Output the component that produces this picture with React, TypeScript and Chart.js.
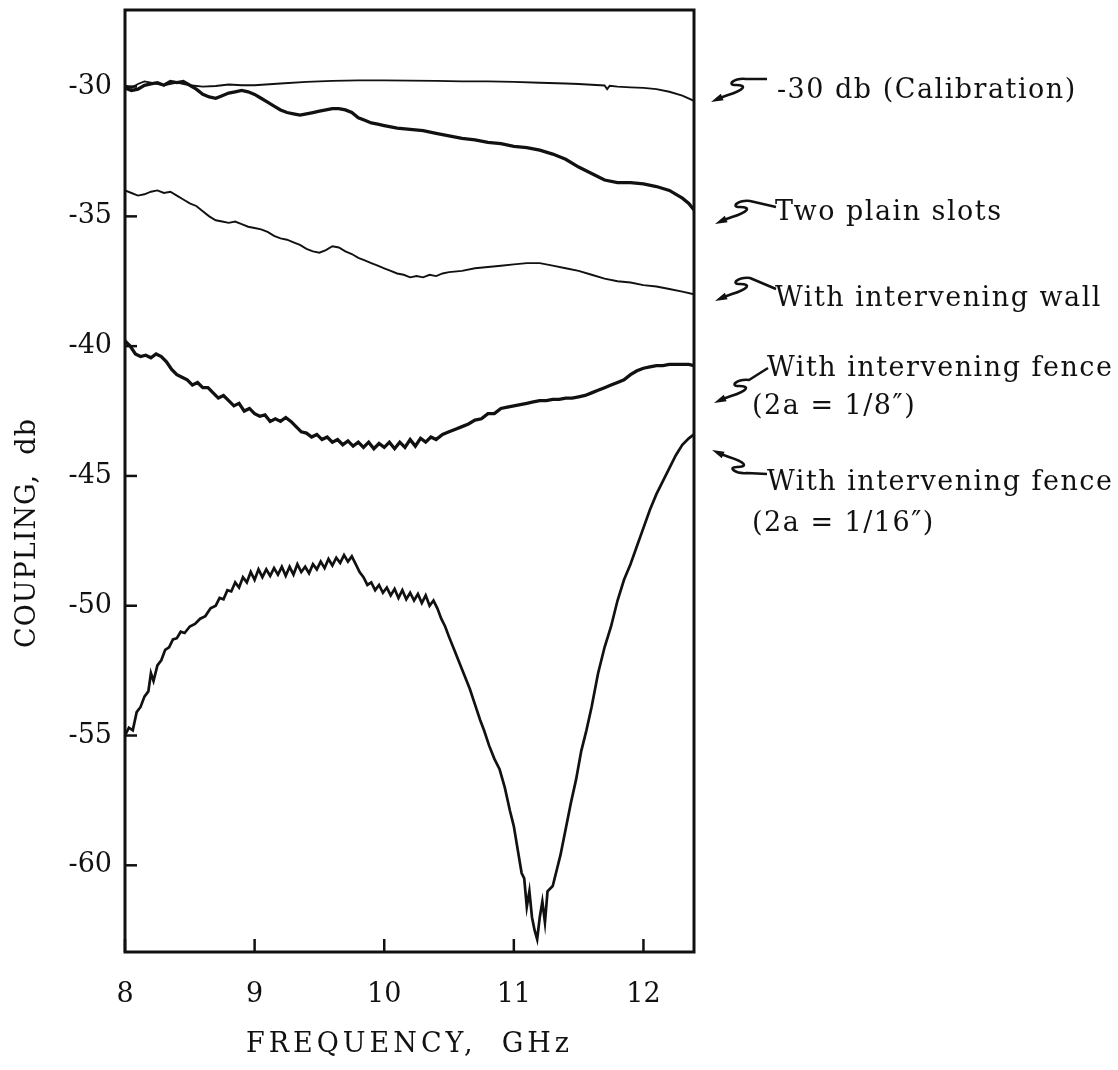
import { useEffect, useRef } from "react";
import { Chart, registerables } from "chart.js";

Chart.register(...registerables);

const SERIF = "'DejaVu Serif', 'Liberation Serif', serif";
const INK = "#111";

// Axis ranges and ticks
const X_MIN = 8;
const X_MAX = 12.39;
const Y_MIN = -63.34;
const Y_MAX = -27.05;
const X_TICK_STEP = 1;
const Y_TICK_STEP = 5;

// -30 db calibration trace
const calFreq = [8.0, 8.05, 8.1, 8.15, 8.2, 8.3, 8.4, 8.5, 8.6, 8.7, 8.8, 8.9, 9.0, 9.2, 9.4, 9.6, 9.8, 10.0, 10.2, 10.4, 10.6, 10.8, 11.0, 11.2, 11.4, 11.5, 11.6, 11.7, 11.72, 11.74, 11.8, 11.9, 12.0, 12.1, 12.2, 12.3, 12.39];
const calDb = [-29.95, -30.05, -29.9, -29.8, -29.85, -29.95, -29.85, -29.95, -30.0, -29.98, -29.92, -29.95, -29.95, -29.88, -29.82, -29.78, -29.76, -29.76, -29.77, -29.78, -29.8, -29.8, -29.82, -29.85, -29.88, -29.9, -29.93, -29.96, -30.1, -29.97, -30.0, -30.03, -30.05, -30.1, -30.2, -30.35, -30.55];

// Two plain slots
const slotsFreq = [8.0, 8.05, 8.1, 8.15, 8.2, 8.25, 8.3, 8.35, 8.4, 8.45, 8.5, 8.55, 8.6, 8.65, 8.7, 8.75, 8.8, 8.85, 8.9, 8.95, 9.0, 9.05, 9.1, 9.15, 9.2, 9.25, 9.3, 9.35, 9.4, 9.45, 9.5, 9.55, 9.6, 9.65, 9.7, 9.75, 9.8, 9.85, 9.9, 9.95, 10.0, 10.1, 10.2, 10.3, 10.4, 10.5, 10.6, 10.7, 10.8, 10.9, 11.0, 11.1, 11.2, 11.3, 11.4, 11.5, 11.6, 11.7, 11.8, 11.9, 12.0, 12.1, 12.2, 12.3, 12.35, 12.39];
const slotsDb = [-30.05, -30.15, -30.1, -29.95, -29.9, -29.85, -29.95, -29.8, -29.85, -29.8, -29.95, -30.1, -30.3, -30.4, -30.45, -30.35, -30.25, -30.2, -30.15, -30.2, -30.3, -30.45, -30.6, -30.75, -30.9, -31.0, -31.05, -31.1, -31.05, -31.0, -30.95, -30.9, -30.85, -30.85, -30.9, -31.0, -31.2, -31.3, -31.4, -31.45, -31.5, -31.6, -31.65, -31.7, -31.8, -31.9, -32.0, -32.05, -32.15, -32.2, -32.3, -32.35, -32.45, -32.6, -32.8, -33.1, -33.35, -33.6, -33.7, -33.7, -33.75, -33.85, -34.0, -34.3, -34.5, -34.75];

// With intervening wall
const wallFreq = [8.0, 8.05, 8.1, 8.15, 8.2, 8.25, 8.3, 8.35, 8.4, 8.45, 8.5, 8.55, 8.6, 8.65, 8.7, 8.75, 8.8, 8.85, 8.9, 8.95, 9.0, 9.05, 9.1, 9.15, 9.2, 9.25, 9.3, 9.35, 9.4, 9.45, 9.5, 9.55, 9.6, 9.65, 9.7, 9.75, 9.8, 9.85, 9.9, 9.95, 10.0, 10.05, 10.1, 10.15, 10.2, 10.25, 10.3, 10.35, 10.4, 10.45, 10.5, 10.6, 10.7, 10.8, 10.9, 11.0, 11.1, 11.2, 11.3, 11.4, 11.5, 11.6, 11.7, 11.8, 11.9, 12.0, 12.1, 12.2, 12.3, 12.39];
const wallDb = [-34.0, -34.1, -34.2, -34.15, -34.05, -34.0, -34.1, -34.05, -34.2, -34.35, -34.5, -34.6, -34.8, -35.0, -35.15, -35.2, -35.25, -35.2, -35.3, -35.4, -35.45, -35.5, -35.6, -35.75, -35.85, -35.9, -36.0, -36.1, -36.25, -36.35, -36.4, -36.3, -36.15, -36.2, -36.35, -36.45, -36.6, -36.7, -36.8, -36.9, -37.0, -37.1, -37.2, -37.25, -37.35, -37.3, -37.35, -37.25, -37.3, -37.2, -37.15, -37.1, -37.0, -36.95, -36.9, -36.85, -36.8, -36.8, -36.9, -37.0, -37.1, -37.25, -37.4, -37.5, -37.55, -37.65, -37.7, -37.8, -37.9, -38.0];

// With intervening fence, 2a = 1/8"
const fence8Freq = [8.0, 8.04, 8.08, 8.12, 8.16, 8.2, 8.24, 8.28, 8.32, 8.36, 8.4, 8.44, 8.48, 8.52, 8.56, 8.6, 8.64, 8.68, 8.72, 8.76, 8.8, 8.84, 8.88, 8.92, 8.96, 9.0, 9.04, 9.08, 9.12, 9.16, 9.2, 9.24, 9.28, 9.32, 9.36, 9.4, 9.44, 9.48, 9.52, 9.56, 9.6, 9.64, 9.68, 9.72, 9.76, 9.8, 9.84, 9.88, 9.92, 9.96, 10.0, 10.04, 10.08, 10.12, 10.16, 10.2, 10.24, 10.28, 10.32, 10.36, 10.4, 10.45, 10.5, 10.55, 10.6, 10.65, 10.7, 10.75, 10.8, 10.85, 10.9, 10.95, 11.0, 11.05, 11.1, 11.15, 11.2, 11.25, 11.3, 11.35, 11.4, 11.45, 11.5, 11.55, 11.6, 11.65, 11.7, 11.75, 11.8, 11.85, 11.9, 11.95, 12.0, 12.05, 12.1, 12.15, 12.2, 12.25, 12.3, 12.35, 12.39];
const fence8Db = [-39.8, -40.0, -40.3, -40.4, -40.35, -40.45, -40.3, -40.4, -40.6, -40.9, -41.1, -41.2, -41.3, -41.5, -41.4, -41.6, -41.6, -41.8, -42.0, -41.9, -42.1, -42.3, -42.2, -42.5, -42.4, -42.6, -42.7, -42.65, -42.9, -42.8, -42.9, -42.75, -42.9, -43.1, -43.3, -43.35, -43.5, -43.4, -43.6, -43.5, -43.7, -43.6, -43.8, -43.65, -43.85, -43.7, -43.9, -43.7, -43.95, -43.75, -43.9, -43.7, -43.95, -43.7, -43.9, -43.6, -43.85, -43.55, -43.7, -43.5, -43.6, -43.4, -43.3, -43.2, -43.1, -43.0, -42.85, -42.8, -42.6, -42.6, -42.4, -42.35, -42.3, -42.25, -42.2, -42.15, -42.1, -42.1, -42.05, -42.05, -42.0, -42.0, -41.95, -41.9, -41.8, -41.7, -41.6, -41.5, -41.4, -41.3, -41.1, -40.95, -40.85, -40.8, -40.75, -40.75, -40.7, -40.7, -40.7, -40.7, -40.75];

// With intervening fence, 2a = 1/16"
const fence16Freq = [8.0, 8.03, 8.06, 8.09, 8.12, 8.15, 8.18, 8.2, 8.22, 8.25, 8.28, 8.31, 8.34, 8.37, 8.4, 8.43, 8.46, 8.5, 8.54, 8.58, 8.62, 8.66, 8.7, 8.73, 8.76, 8.79, 8.82, 8.85, 8.88, 8.91, 8.94, 8.97, 9.0, 9.03, 9.06, 9.09, 9.12, 9.15, 9.18, 9.21, 9.24, 9.27, 9.3, 9.33, 9.36, 9.39, 9.42, 9.45, 9.48, 9.51, 9.54, 9.57, 9.6, 9.63, 9.66, 9.69, 9.72, 9.75, 9.78, 9.81, 9.84, 9.87, 9.9, 9.93, 9.96, 9.99, 10.02, 10.05, 10.08, 10.11, 10.14, 10.17, 10.2, 10.23, 10.26, 10.29, 10.32, 10.35, 10.38, 10.41, 10.44, 10.47, 10.5, 10.54, 10.58, 10.62, 10.66, 10.7, 10.74, 10.77, 10.81, 10.85, 10.89, 10.93, 10.97, 11.0, 11.03, 11.06, 11.08, 11.1, 11.12, 11.14, 11.16, 11.18, 11.2, 11.22, 11.24, 11.26, 11.3, 11.33, 11.36, 11.4, 11.44, 11.48, 11.52, 11.56, 11.6, 11.65, 11.7, 11.75, 11.8, 11.85, 11.9, 11.95, 12.0, 12.05, 12.1, 12.15, 12.2, 12.25, 12.3, 12.35, 12.39];
const fence16Db = [-55.0, -54.7, -54.8, -54.1, -53.9, -53.5, -53.3, -52.6, -52.9, -52.3, -52.1, -51.7, -51.6, -51.3, -51.25, -51.0, -51.05, -50.8, -50.7, -50.5, -50.4, -50.1, -50.0, -49.7, -49.75, -49.4, -49.45, -49.1, -49.3, -48.9, -49.1, -48.7, -49.0, -48.6, -48.9, -48.6, -48.85, -48.55, -48.8, -48.5, -48.85, -48.5, -48.8, -48.4, -48.7, -48.5, -48.75, -48.4, -48.6, -48.3, -48.55, -48.2, -48.45, -48.15, -48.35, -48.05, -48.3, -48.1, -48.4, -48.7, -48.9, -49.2, -49.1, -49.4, -49.2, -49.5, -49.3, -49.6, -49.35, -49.7, -49.4, -49.75, -49.5, -49.8, -49.55, -49.9, -49.6, -50.0, -49.8, -50.1, -50.5, -50.8, -51.2, -51.7, -52.2, -52.7, -53.2, -53.8, -54.4, -54.8, -55.4, -55.9, -56.3, -57.0, -57.9, -58.5, -59.4, -60.3, -60.5, -61.6, -61.0, -62.0, -62.5, -62.85, -62.0, -61.4, -62.2, -61.0, -60.8, -60.2, -59.6, -58.6, -57.6, -56.7, -55.6, -54.8, -53.9, -52.6, -51.6, -50.8, -49.8, -49.0, -48.4, -47.7, -47.0, -46.3, -45.7, -45.2, -44.7, -44.2, -43.8, -43.55, -43.4];

const toPoints = (xs: number[], ys: number[]) => xs.map((x, i) => ({ x, y: ys[i] }));

type Note = { lines: string[]; x: number[]; baseline: number[]; head: [number, number]; tail: [number, number]; flip?: boolean };

const notes: Note[] = [
  { lines: ["-30 db (Calibration)"], x: [777], baseline: [98], head: [713, 101], tail: [767, 79] },
  { lines: ["Two plain slots"], x: [775], baseline: [220], head: [717, 223], tail: [776, 207] },
  { lines: ["With intervening wall"], x: [775], baseline: [306], head: [717, 300], tail: [776, 289] },
  { lines: ["With intervening fence", "(2a = 1/8\u2033)"], x: [767, 752], baseline: [376, 414], head: [716, 402], tail: [768, 368] },
  { lines: ["With intervening fence", "(2a = 1/16\u2033)"], x: [767, 752], baseline: [490, 531], head: [714, 451], tail: [767, 474], flip: true },
];

function drawArrow(ctx: CanvasRenderingContext2D, n: Note) {
  const [hx, hy] = n.head;
  const [tx, ty] = n.tail;
  const s = n.flip ? -1 : 1;
  ctx.beginPath();
  ctx.moveTo(hx + 4, hy - 2 * s);
  ctx.lineTo(hx + 15, hy - 6 * s);
  ctx.bezierCurveTo(hx + 31, hy - 11 * s, hx + 35, hy - 16 * s, hx + 23, hy - 16 * s);
  ctx.bezierCurveTo(hx + 13, hy - 16 * s, hx + 21, hy - 23 * s, hx + 33, hy - 22 * s);
  ctx.lineTo(tx, ty);
  ctx.stroke();
  // arrow tip
  const ang = Math.atan2(-6 * s, 14);
  ctx.beginPath();
  ctx.moveTo(hx - 2, hy + 1 * s);
  ctx.lineTo(hx + 10 * Math.cos(ang) - 3.5 * Math.sin(ang), hy + 10 * Math.sin(ang) + 3.5 * Math.cos(ang));
  ctx.lineTo(hx + 10 * Math.cos(ang) + 3.5 * Math.sin(ang), hy + 10 * Math.sin(ang) - 3.5 * Math.cos(ang));
  ctx.closePath();
  ctx.fill();
}

// Frame, inward tick marks, axis titles and curve notes
const decorPlugin = {
  id: "decor",
  afterDraw(chart: any) {
    const { ctx, chartArea } = chart;
    const { left, right, top, bottom } = chartArea;
    const xs = chart.scales.x;
    const ys = chart.scales.y;
    ctx.save();
    ctx.strokeStyle = INK;
    ctx.fillStyle = INK;
    ctx.lineWidth = 3;
    ctx.lineCap = "butt";
    ctx.strokeRect(left, top, right - left, bottom - top);
    ctx.lineWidth = 2.5;
    xs.ticks.forEach((t: any) => {
      const px = xs.getPixelForValue(t.value);
      ctx.beginPath();
      ctx.moveTo(px, bottom);
      ctx.lineTo(px, bottom - 13);
      ctx.stroke();
    });
    ys.ticks.forEach((t: any) => {
      const py = ys.getPixelForValue(t.value);
      ctx.beginPath();
      ctx.moveTo(left, py);
      ctx.lineTo(left + 12, py);
      ctx.stroke();
    });

    // axis titles
    ctx.font = `27px ${SERIF}`;
    (ctx as any).letterSpacing = "4px";
    ctx.textBaseline = "middle";
    ctx.textAlign = "center";
    ctx.fillText("FREQUENCY,  GHz", (left + right) / 2, 1045);
    (ctx as any).letterSpacing = "1px";
    ctx.save();
    ctx.translate(28, 533);
    ctx.rotate(-Math.PI / 2);
    ctx.fillText("COUPLING,  db", 0, 0);
    ctx.restore();

    // notes on the right
    (ctx as any).letterSpacing = "1.5px";
    ctx.textAlign = "left";
    ctx.textBaseline = "alphabetic";
    ctx.lineWidth = 2.5;
    ctx.lineJoin = "round";
    notes.forEach((n) => {
      n.lines.forEach((line, i) => ctx.fillText(line, n.x[i], n.baseline[i]));
      drawArrow(ctx, n);
    });
    ctx.restore();
  },
};

export default function App() {
  const canvasRef = useRef<HTMLCanvasElement | null>(null);

  useEffect(() => {
    const canvas = canvasRef.current;
    if (!canvas) return;
    const thin = { borderColor: INK, borderWidth: 1.9, pointRadius: 0, fill: false, tension: 0 };
    const thick = { borderColor: INK, borderWidth: 3.3, pointRadius: 0, fill: false, tension: 0 };
    const chart = new Chart(canvas, {
      type: "line",
      data: {
        datasets: [
          { label: "-30 db (Calibration)", data: toPoints(calFreq, calDb), ...thin },
          { label: "Two plain slots", data: toPoints(slotsFreq, slotsDb), ...thick },
          { label: "With intervening wall", data: toPoints(wallFreq, wallDb), ...thin },
          { label: "With intervening fence (2a = 1/8\u2033)", data: toPoints(fence8Freq, fence8Db), ...thick },
          { label: "With intervening fence (2a = 1/16\u2033)", data: toPoints(fence16Freq, fence16Db), ...{ ...thick, borderWidth: 2.7 } },
        ],
      },
      options: {
        animation: false,
        responsive: false,
        devicePixelRatio: 1,
        layout: { padding: { left: 0, right: 1118 - 694, top: 10, bottom: 0 } },
        plugins: { legend: { display: false }, tooltip: { enabled: false } },
        scales: {
          x: {
            type: "linear",
            min: X_MIN,
            max: X_MAX,
            afterFit: (s: any) => {
              s.height = 118;
              s.paddingLeft = 0;
              s.paddingRight = 0;
            },
            grid: { display: false },
            border: { display: false },
            ticks: {
              stepSize: X_TICK_STEP,
              includeBounds: false,
              autoSkip: false,
              maxRotation: 0,
              padding: 19,
              color: INK,
              font: { family: SERIF, size: 27 },
            },
          },
          y: {
            type: "linear",
            min: Y_MIN,
            max: Y_MAX,
            afterFit: (s: any) => {
              s.width = 125;
              s.paddingTop = 0;
              s.paddingBottom = 0;
            },
            grid: { display: false },
            border: { display: false },
            ticks: {
              stepSize: Y_TICK_STEP,
              includeBounds: false,
              autoSkip: false,
              padding: 5,
              color: INK,
              font: { family: SERIF, size: 27 },
            },
          },
        },
      },
      plugins: [decorPlugin],
    } as any);
    return () => chart.destroy();
  }, []);

  return (
    <div style={{ position: "absolute", left: 0, top: 0, width: 1118, height: 1070, background: "#fff" }}>
      <canvas ref={canvasRef} width={1118} height={1070} style={{ display: "block" }} />
    </div>
  );
}
